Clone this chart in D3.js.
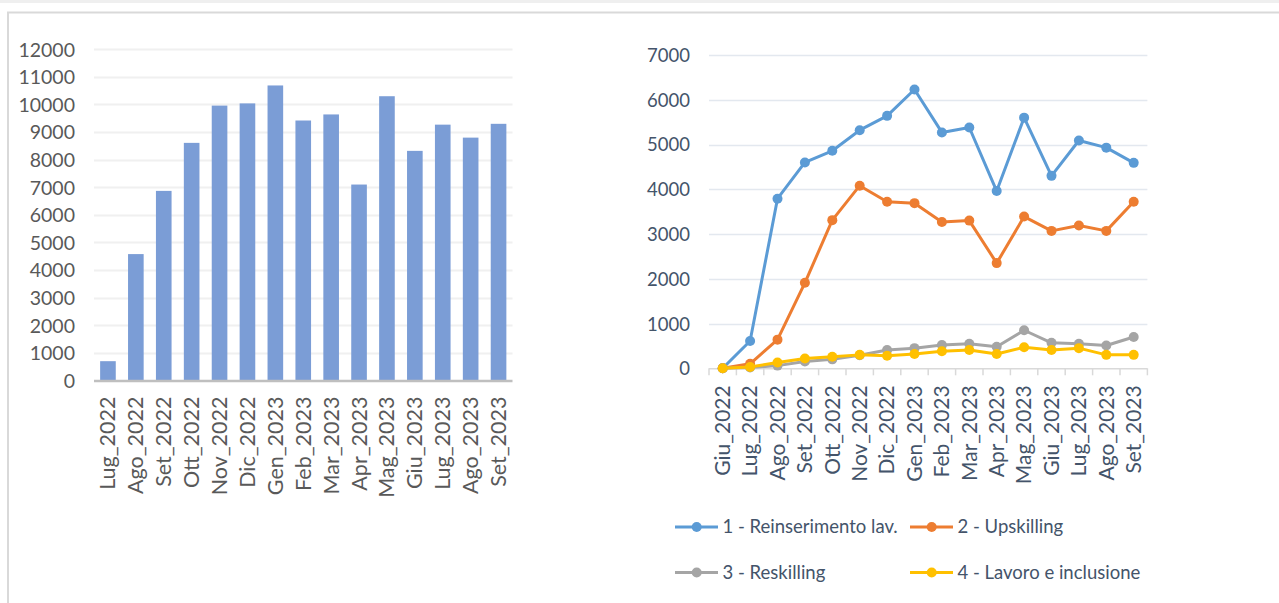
<!DOCTYPE html>
<html><head><meta charset="utf-8">
<script src="https://cdn.jsdelivr.net/npm/d3@7"></script>
<style>
html,body{margin:0;padding:0;background:#fff;}
svg{display:block;font-family:Lato,"Open Sans",sans-serif;}
</style></head><body>
<svg id="c" width="1279" height="603"></svg>
<script>
// ---- data ----
const barCategories = ["Lug_2022","Ago_2022","Set_2022","Ott_2022","Nov_2022","Dic_2022","Gen_2023","Feb_2023","Mar_2023","Apr_2023","Mag_2023","Giu_2023","Lug_2023","Ago_2023","Set_2023"];
const barValues = [700,4580,6870,8610,9960,10040,10690,9420,9640,7100,10300,8320,9270,8800,9300];
const barTicks = [0,1000,2000,3000,4000,5000,6000,7000,8000,9000,10000,11000,12000];

const lineCategories = ["Giu_2022","Lug_2022","Ago_2022","Set_2022","Ott_2022","Nov_2022","Dic_2022","Gen_2023","Feb_2023","Mar_2023","Apr_2023","Mag_2023","Giu_2023","Lug_2023","Ago_2023","Set_2023"];
const seriesNames = ["1 - Reinserimento lav.","2 - Upskilling","3 - Reskilling","4 - Lavoro e inclusione"];
const seriesColors = ["#5B9BD5","#ED7D31","#A5A5A5","#FFC000"];
const reinserimento = [0,610,3790,4600,4860,5320,5640,6230,5270,5380,3960,5600,4300,5090,4930,4590];
const upskilling = [0,100,640,1910,3310,4080,3720,3690,3270,3300,2350,3390,3070,3190,3070,3720];
const reskilling = [0,20,60,150,200,290,410,450,520,550,480,850,570,550,510,700];
const lavoroInclusione = [0,30,130,220,260,300,280,320,380,410,320,470,410,450,300,300];
const lineTicks = [0,1000,2000,3000,4000,5000,6000,7000];

const seriesData = [reinserimento, upskilling, reskilling, lavoroInclusione];

const svg = d3.select("#c");

// ---- frame ----
svg.append("rect").attr("x",0).attr("y",0).attr("width",1279).attr("height",3).attr("fill","#efefef");
svg.append("line").attr("x1",7).attr("x2",1279).attr("y1",12.5).attr("y2",12.5).attr("stroke","#d9d9d9").attr("stroke-width",2);
svg.append("line").attr("x1",8).attr("x2",8).attr("y1",12).attr("y2",603).attr("stroke","#d9d9d9").attr("stroke-width",2);

// ---- left bar chart ----
const L = {x0:94, x1:512.5, y0:380.5, y1:49.3};
const xb = d3.scaleBand().domain(barCategories).range([L.x0,L.x1]).paddingInner(0.44).paddingOuter(0.22);
const yb = d3.scaleLinear().domain([0,12000]).range([L.y0,L.y1]);

const gL = svg.append("g");
gL.append("g").selectAll("line").data(barTicks.filter(d=>d>0)).join("line")
  .attr("x1",L.x0).attr("x2",L.x1).attr("y1",d=>Math.round(yb(d))+0.5).attr("y2",d=>Math.round(yb(d))+0.5)
  .attr("stroke","#f0f0f0").attr("stroke-width",2);

gL.append("g").selectAll("rect").data(barValues).join("rect")
  .attr("x",(d,i)=>xb(barCategories[i])).attr("width",xb.bandwidth())
  .attr("y",d=>yb(d)).attr("height",d=>yb(0)-yb(d))
  .attr("fill","#7B9DD6");

gL.append("line").attr("x1",L.x0).attr("x2",L.x1).attr("y1",yb(0)+0.5).attr("y2",yb(0)+0.5)
  .attr("stroke","#bfbfbf").attr("stroke-width",2.5);

const yAxL = d3.axisLeft(yb).tickValues(barTicks).tickSize(0).tickPadding(0).tickFormat(d3.format("d"));
gL.append("g").attr("transform","translate(75,0)").call(yAxL)
  .call(g=>g.select(".domain").remove())
  .selectAll("text").attr("fill","#595959").attr("font-size","19.5px").attr("font-family","Lato,sans-serif").attr("dy","0.35em");

const xAxL = d3.axisBottom(xb).tickSize(0).tickPadding(0);
gL.append("g").attr("transform",`translate(0,${yb(0)})`).call(xAxL)
  .call(g=>g.select(".domain").remove())
  .selectAll("text").attr("fill","#595959").attr("font-size","21.5px").attr("font-family","Lato,sans-serif")
  .attr("transform","rotate(-90)").attr("text-anchor","end").attr("x",-16).attr("y",0).attr("dy","0.35em");

// ---- right line chart ----
const R = {x0:709, x1:1147.4, y0:368.3, y1:55};
const xl = d3.scaleBand().domain(lineCategories).range([R.x0,R.x1]);
const xp = c => xl(c)+xl.bandwidth()/2;
const yl = d3.scaleLinear().domain([0,7000]).range([R.y0,R.y1]);

const gR = svg.append("g");
gR.append("g").selectAll("line").data(lineTicks.filter(d=>d>0)).join("line")
  .attr("x1",R.x0).attr("x2",R.x1).attr("y1",d=>Math.round(yl(d))+0.5).attr("y2",d=>Math.round(yl(d))+0.5)
  .attr("stroke","#e3e8ef").attr("stroke-width",1.5);

// x axis with ticks between categories
gR.append("line").attr("x1",R.x0).attr("x2",R.x1).attr("y1",yl(0)+0.5).attr("y2",yl(0)+0.5).attr("stroke","#d9d9d9").attr("stroke-width",1.5);
const bounds = lineCategories.map(c=>xl(c)).concat([R.x1]);
gR.append("g").selectAll("line").data(bounds).join("line")
  .attr("x1",d=>d).attr("x2",d=>d).attr("y1",yl(0)).attr("y2",yl(0)+7).attr("stroke","#d9d9d9").attr("stroke-width",1.5);

const yAxR = d3.axisLeft(yl).tickValues(lineTicks).tickSize(0).tickPadding(0).tickFormat(d3.format("d"));
gR.append("g").attr("transform","translate(690,0)").call(yAxR)
  .call(g=>g.select(".domain").remove())
  .selectAll("text").attr("fill","#44546A").attr("font-size","18.5px").attr("font-family","Lato,sans-serif").attr("dy","0.35em");

const xAxR = d3.axisBottom(xl).tickSize(0).tickPadding(0);
gR.append("g").attr("transform",`translate(0,${yl(0)})`).call(xAxR)
  .call(g=>g.select(".domain").remove())
  .selectAll("text").attr("fill","#44546A").attr("font-size","21px").attr("font-family","Lato,sans-serif")
  .attr("transform","rotate(-90)").attr("text-anchor","end").attr("x",-17).attr("y",0).attr("dy","0.35em");

const line = d3.line().x((d,i)=>xp(lineCategories[i])).y(d=>yl(d));
seriesData.forEach((s,k)=>{
  const g = gR.append("g");
  g.append("path").datum(s).attr("d",line).attr("fill","none").attr("stroke",seriesColors[k]).attr("stroke-width",3).attr("stroke-linejoin","round");
  g.selectAll("circle").data(s).join("circle")
    .attr("cx",(d,i)=>xp(lineCategories[i])).attr("cy",d=>yl(d)).attr("r",5).attr("fill",seriesColors[k]);
});

// legend
const legPos = [[675,527],[910,527],[675,572.5],[910,572.5]];
seriesNames.forEach((n,k)=>{
  const [lx,ly] = legPos[k];
  const g = svg.append("g");
  g.append("line").attr("x1",lx).attr("x2",lx+43).attr("y1",ly).attr("y2",ly).attr("stroke",seriesColors[k]).attr("stroke-width",3);
  g.append("circle").attr("cx",lx+21.7).attr("cy",ly).attr("r",5).attr("fill",seriesColors[k]);
  g.append("text").attr("x",lx+47.5).attr("y",ly).attr("dy","0.35em").attr("fill","#44546A")
    .attr("font-size","18.5px").attr("font-family","Lato,sans-serif").text(n);
});
</script>
</body></html>
